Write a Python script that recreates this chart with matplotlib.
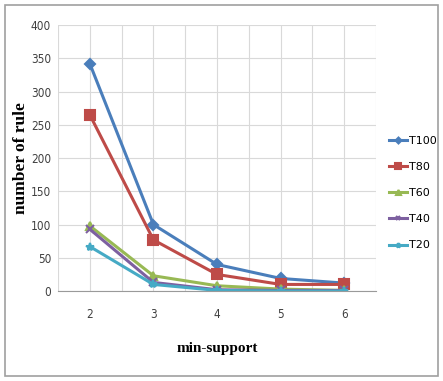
import matplotlib.pyplot as plt
from matplotlib.patches import Rectangle
from matplotlib.ticker import MultipleLocator

support = [2, 3, 4, 5, 6]
t100 = [342, 100, 40, 19, 12]
t80 = [265, 77, 25, 10, 10]
t60 = [98, 23, 8, 3, 1]
t40 = [93, 13, 2, 1, 1]
t20 = [67, 10, 1, 0, 0]

series = [
    ("T100", t100, "#4a7ebb", "D", 5),
    ("T80", t80, "#be4b48", "s", 7),
    ("T60", t60, "#98b954", "^", 6),
    ("T40", t40, "#7d60a0", "x", 6),
    ("T20", t20, "#46aac5", "*", 6),
]

fig = plt.figure(figsize=(4.43, 3.81), dpi=100)
fig.patches.append(Rectangle((0.012, 0.012), 0.976, 0.976, transform=fig.transFigure,
                             fill=False, edgecolor="#a0a0a0", linewidth=1.2))
ax = fig.add_axes([0.131, 0.236, 0.718, 0.698])

for name, vals, col, mk, ms in series:
    ax.plot(support, vals, color=col, marker=mk, markersize=ms, linewidth=2.2,
            label=name, markeredgewidth=1.5)

ax.set_xlim(1.5, 6.5)
ax.set_ylim(0, 400)
ax.set_yticks(range(0, 401, 50))
ax.set_xticks(support)
ax.xaxis.set_minor_locator(MultipleLocator(0.5))
ax.grid(True, which="both", color="#d9d9d9", linewidth=0.8)
ax.set_axisbelow(True)
for s in ("top", "right", "left"):
    ax.spines[s].set_visible(False)
ax.spines["bottom"].set_color("#9a9a9a")
ax.tick_params(which="both", length=0, colors="#404040", labelsize=8.5)
ax.tick_params(axis="x", pad=12)
ax.tick_params(axis="y", pad=5)
for lab in ax.get_xticklabels() + ax.get_yticklabels():
    lab.set_fontstretch("condensed")

ax.set_xlabel("min-support", fontfamily="Liberation Serif", fontweight="bold",
              fontsize=11, labelpad=15)
ax.set_ylabel("number of rule", fontfamily="Liberation Serif", fontweight="bold",
              fontsize=12.5, labelpad=1)

leg = ax.legend(loc="center left", bbox_to_anchor=(1.01, 0.368), frameon=False,
                fontsize=8, handlelength=1.6, labelspacing=1.45, handletextpad=0.2,
                markerscale=0.6)

fig.savefig("out.png", dpi=100)
